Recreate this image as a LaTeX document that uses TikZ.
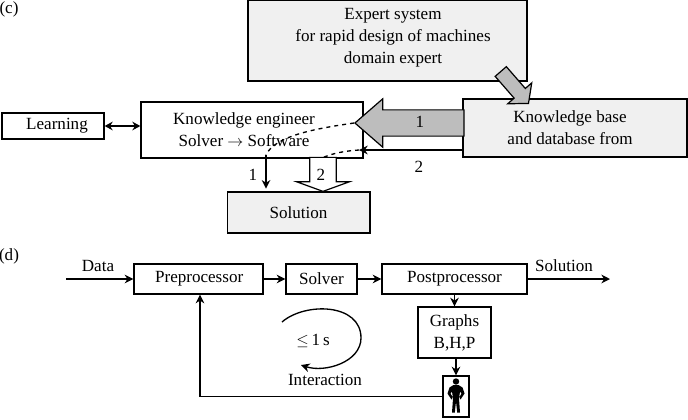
\documentclass[tikz,border=0pt]{standalone}
\usepackage{fontspec}
\setmainfont{Liberation Serif}
\usetikzlibrary{shapes.arrows,arrows.meta}
\definecolor{lightbox}{gray}{0.94}
\definecolor{midarrow}{gray}{0.74}
\tikzset{
  box/.style = {draw, line width=1pt, inner sep=0pt, align=center, font=\fontsize{12.8}{16.5}\selectfont},
  shaded/.style = {box, fill=lightbox},
  lab/.style = {inner sep=0pt, font=\fontsize{12.8}{16.5}\selectfont},
  conn/.style = {line width=1pt, -{Stealth[length=6.5pt,width=6.5pt]}},
  fat/.style = {draw, line width=0.9pt, single arrow, inner xsep=0pt, anchor=tip}
}
\begin{document}
\begin{tikzpicture}[x=0.75pt, y=-0.75pt]
      \useasboundingbox (0,0) rectangle (688,419);
      \node[lab] (c) at (9,9) {(c)};
      \node[shaded, minimum width=209.25pt, minimum height=60.75pt] (expert) at (387.5,40.5) {\hspace*{8.25pt}Expert system\\\hspace*{8.25pt}for rapid design of machines\\\hspace*{8.25pt}domain expert\\[-10pt]\mbox{}};
      \node[shaded, minimum width=168pt, minimum height=43.5pt] (base) at (575,128) {Knowledge base\hspace*{7.5pt}\\and database from\hspace*{7.5pt}};
      \node[box, minimum width=166.5pt, minimum height=42pt] (engineer) at (252,130) {Knowledge engineer\hspace*{12pt}\\Solver $\rightarrow$ Software\hspace*{12pt}};
      \node[box, minimum width=76.5pt, minimum height=19.5pt] (learning) at (53,126) {\hspace*{6pt}Learning};
      \node[shaded, minimum width=107pt, minimum height=30.75pt] (solution) at (298.5,212.5) {Solution};
      \draw[line width=1pt, {Stealth[length=6pt,width=6.5pt]}-{Stealth[length=6pt,width=6.5pt]}] (learning) -- (learning -| engineer.west);
      % block arrows
      \node[fat, fill=midarrow, shape border rotate=180, minimum height=81.75pt, minimum width=36pt,
        single arrow head extend=8.25pt, single arrow tip angle=82, inner ysep=9.4pt] (big) at (354,123) {};
      \node[lab] (one) at (420,122) {1};
      \node[fat, fill=midarrow, rotate=-49, minimum height=31.7pt, minimum width=23pt,
        single arrow head extend=6.4pt, single arrow tip angle=100, inner ysep=5.1pt] (slant) at (529,104) {};
      \node[fat, fill=white, shape border rotate=270, minimum height=25.5pt, minimum width=39pt,
        single arrow head extend=10pt, single arrow tip angle=140, inner xsep=9.5pt, inner ysep=0pt] (down) at (323,192) {};
      \node[lab] (two) at (321,175) {2};
      \node[lab] (onel) at (253,175) {1};
      \node[lab] (twol) at (419,167) {2};
      % thin paths between engineer and solution
      \coordinate (turn) at (266,155);
      \coordinate (mid) at (322,158);
      \draw[conn] (base.west |- 0,150) -- (359,150);
      \draw[line width=1pt, dashed] (359,150) .. controls (345,151) and (333,153) .. (mid);
      \draw[line width=1pt, dashed] (big.tip) .. controls (320,128) and (275,135) .. (turn);
      \draw[conn, shorten >=2pt] (turn) -- (turn |- solution.north);
      % lower diagram
      \node[lab] (d) at (9,256) {(d)};
      \node[box, minimum width=96.75pt, minimum height=22.5pt] (pre) at (198.5,279) {\hspace*{1pt}Preprocessor};
      \node[box, minimum width=53.25pt, minimum height=22.5pt] (solver) at (321.5,279) {Solver};
      \node[box, minimum width=108.75pt, minimum height=22.5pt] (post) at (454.5,279) {Postprocessor};
      \node[box, minimum width=54.75pt, minimum height=38.25pt] (graphs) at (454.5,332.5) {Graphs\\B,H,P};
      \node[box, minimum width=19.5pt, minimum height=30.75pt] (man) at (456,396.5) {};
      \coordinate (data) at (66,279);
      \coordinate (out) at (610,279);
      \node[lab] (datal) at (98,266) {Data};
      \node[lab] (solutionl) at (564,266) {Solution};
      \node[lab] (sec) at (313,341) {$\leq$\,1\,s};
      \node[lab] (inter) at (325,380) {Interaction};
      \draw[conn] (data) -- (pre);
      \draw[conn] (pre) -- (solver);
      \draw[conn] (solver) -- (post);
      \draw[conn] (post) -- (out);
      \draw[conn] (post.south -| graphs) -- (graphs);
      \draw[conn] (graphs.south -| man) -- (man);
      \draw[conn] (man.west) -| ([xshift=1.1pt]pre.south);
      \coordinate (loopa) at (282,322);
      \coordinate (loopb) at (361,338);
      \coordinate (loopc) at (301,365);
      \draw[conn] (loopa) .. controls (305,302) and (361,303) .. (loopb) .. controls (361,362) and (325,373) .. (loopc);
      % standing figure
      \begin{scope}[shift={(man.center)}]
        \fill (0,-15) circle (3.2);
        \fill (-2.5,-11.5) -- (2.5,-11.5) -- (6.5,-9) -- (8.5,-3) -- (4.5,3) -- (3.5,0.5) -- (5.5,-3) -- (4,-5) -- (3,2) -- (4,16) -- (1.2,16) -- (0,5) -- (-1.2,16) -- (-4,16) -- (-3,2) -- (-4,-5) -- (-5.5,-3) -- (-3.5,0.5) -- (-4.5,3) -- (-8.5,-3) -- (-6.5,-9) -- cycle;
      \end{scope}
    \end{tikzpicture}
\end{document}
